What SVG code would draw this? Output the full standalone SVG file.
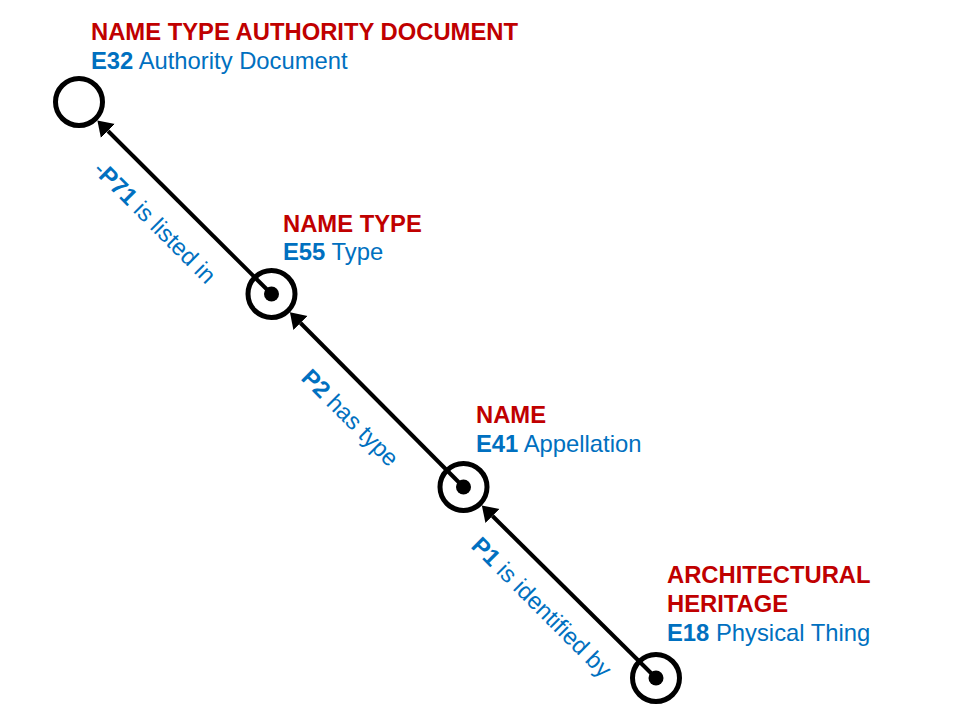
<svg xmlns="http://www.w3.org/2000/svg" width="960" height="720" viewBox="0 0 960 720">
<style>
text{font-family:"Liberation Sans",Arial,sans-serif;font-size:23.8px}
.t{fill:#C00000;font-weight:bold}
.s{fill:#0070C0}
.b{font-weight:bold}
.ring{fill:none;stroke:#000;stroke-width:5}
.dot{fill:#000}
.edge{stroke:#000;stroke-width:4;fill:none;marker-end:url(#ah)}
</style>
<defs>
<marker id="ah" viewBox="0 -11 16 22" refX="0" refY="0" markerWidth="16" markerHeight="22" markerUnits="userSpaceOnUse" orient="auto">
<path d="M0,-10 L15,0 L0,10 Z" fill="#000"/>
</marker>
</defs>
<rect width="960" height="720" fill="#fff"/>
<g id="connectors">
<line class="edge" x1="271.5" y1="294" x2="108" y2="131"/>
<line class="edge" x1="463.5" y1="487" x2="300.5" y2="323"/>
<line class="edge" x1="656" y1="678" x2="492.5" y2="516"/>
<text class="s" transform="translate(92,171) rotate(45)">-<tspan class="b">P71</tspan> is listed in</text>
<text class="s" transform="translate(300,379) rotate(45)"><tspan class="b">P2</tspan> has type</text>
<text class="s" transform="translate(470,547) rotate(45)"><tspan class="b">P1</tspan> is identified by</text>
</g>
<g id="e32">
<circle class="ring" cx="79" cy="102" r="23.5"/>
<text class="t" x="91" y="40">NAME TYPE AUTHORITY DOCUMENT</text>
<text class="s" x="91" y="69"><tspan class="b">E32</tspan> Authority Document</text>
</g>
<g id="e55">
<circle class="ring" cx="271.5" cy="294" r="23.5"/>
<circle class="dot" cx="271.5" cy="294" r="7.5"/>
<text class="t" x="283" y="232">NAME TYPE</text>
<text class="s" x="283" y="260"><tspan class="b">E55</tspan> Type</text>
</g>
<g id="e41">
<circle class="ring" cx="463.5" cy="487" r="23.5"/>
<circle class="dot" cx="463.5" cy="487" r="7.5"/>
<text class="t" x="476" y="423">NAME</text>
<text class="s" x="476" y="452"><tspan class="b">E41</tspan> Appellation</text>
</g>
<g id="e18">
<circle class="ring" cx="656" cy="678" r="23.5"/>
<circle class="dot" cx="656" cy="678" r="7.5"/>
<text class="t" x="667" y="583">ARCHITECTURAL</text>
<text class="t" x="667" y="612">HERITAGE</text>
<text class="s" x="667" y="641"><tspan class="b">E18</tspan> Physical Thing</text>
</g>
</svg>
